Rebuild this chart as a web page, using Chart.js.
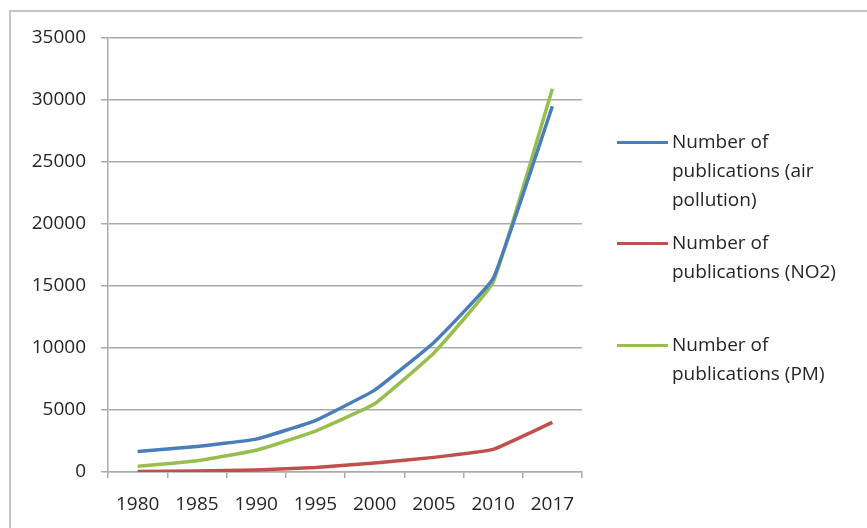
<!DOCTYPE html>
<html>
<head>
<meta charset="utf-8">
<script src="https://cdn.jsdelivr.net/npm/chart.js@4.4.1/dist/chart.umd.min.js"></script>
<style>
  html, body { margin: 0; padding: 0; background: #fff; }
  #wrap { position: relative; width: 867px; height: 528px; overflow: hidden; }
  #frame { position: absolute; left: 9px; top: 10px; width: 900px; height: 600px;
           border: 2px solid #c4c4c4; box-sizing: border-box; pointer-events: none; }
  #chart { position: absolute; left: 0; top: 0; }
  #legend { position: absolute; left: 617px; top: 0; width: 250px; height: 528px;
            font-family: "Open Sans", Lato, "Liberation Sans", sans-serif; font-size: 19px; color: #262626; }
  .entry { position: absolute; left: 0; display: flex; align-items: flex-start; }
  .swatch { width: 51px; height: 3px; margin-top: 14px; flex: none; }
  .text { width: 190px; line-height: 29px; padding-left: 4px; }
</style>
</head>
<body>
<div id="wrap">
  <canvas id="chart" width="867" height="528"></canvas>
  <div id="frame"></div>
  <div id="legend"></div>
</div>
<script>
// Publication counts per year
const years = ['1980', '1985', '1990', '1995', '2000', '2005', '2010', '2017'];
const airPollution = [1650, 2050, 2650, 4150, 6600, 10450, 15600, 29500];
const no2 = [50, 90, 170, 370, 720, 1180, 1820, 4000];
const pm = [450, 900, 1750, 3300, 5500, 9600, 15300, 30900];
const seriesLabels = [
  'Number of publications (air pollution)',
  'Number of publications (NO2)',
  'Number of publications (PM)'
];
const yTicks = { min: 0, max: 35000, step: 5000 };

const colors = ['#4A7EBB', '#C0504D', '#98BF4E'];
const tickFont = { family: '"Open Sans", Lato, "Liberation Sans", sans-serif', size: 19 };
const textColor = '#262626';
const gridColor = '#ababab';

// Top edge of each legend entry's text block
const legendTops = [127, 228, 330];

const htmlLegend = {
  id: 'htmlLegend',
  afterUpdate(chart) {
    const box = document.getElementById('legend');
    box.innerHTML = '';
    chart.data.datasets.forEach((ds, i) => {
      const entry = document.createElement('div');
      entry.className = 'entry';
      entry.style.top = legendTops[i] + 'px';
      const sw = document.createElement('div');
      sw.className = 'swatch';
      sw.style.background = ds.borderColor;
      const tx = document.createElement('div');
      tx.className = 'text';
      tx.textContent = ds.label;
      entry.appendChild(sw);
      entry.appendChild(tx);
      box.appendChild(entry);
    });
  }
};

const seriesValues = [airPollution, no2, pm];

new Chart(document.getElementById('chart'), {
  type: 'line',
  data: {
    labels: years,
    datasets: seriesValues.map((vals, i) => ({
      label: seriesLabels[i],
      data: vals,
      borderColor: colors[i],
      backgroundColor: colors[i],
      borderWidth: 3.5,
      pointRadius: 0,
      tension: 0.1,
      fill: false
    }))
  },
  options: {
    responsive: false,
    animation: false,
    devicePixelRatio: 1,
    layout: { padding: { top: 38, right: 285, left: 0, bottom: 0 } },
    plugins: {
      legend: { display: false },
      tooltip: { enabled: false }
    },
    scales: {
      x: {
        offset: true,
        grid: { offset: true, drawOnChartArea: false, tickLength: 6, color: gridColor, lineWidth: 1.5 },
        border: { color: gridColor, width: 1.5 },
        ticks: { font: tickFont, color: textColor, padding: 15, maxRotation: 0, autoSkip: false },
        afterFit(scale) { scale.height = 56; }
      },
      y: {
        min: yTicks.min,
        max: yTicks.max,
        grid: { color: gridColor, lineWidth: 1.5, tickLength: 7 },
        border: { color: gridColor, width: 1.5 },
        ticks: {
          stepSize: yTicks.step, font: tickFont, color: textColor, padding: 15,
          callback: (v) => String(v)
        },
        afterFit(scale) { scale.width = 108; }
      }
    }
  },
  plugins: [htmlLegend]
});
</script>
</body>
</html>
